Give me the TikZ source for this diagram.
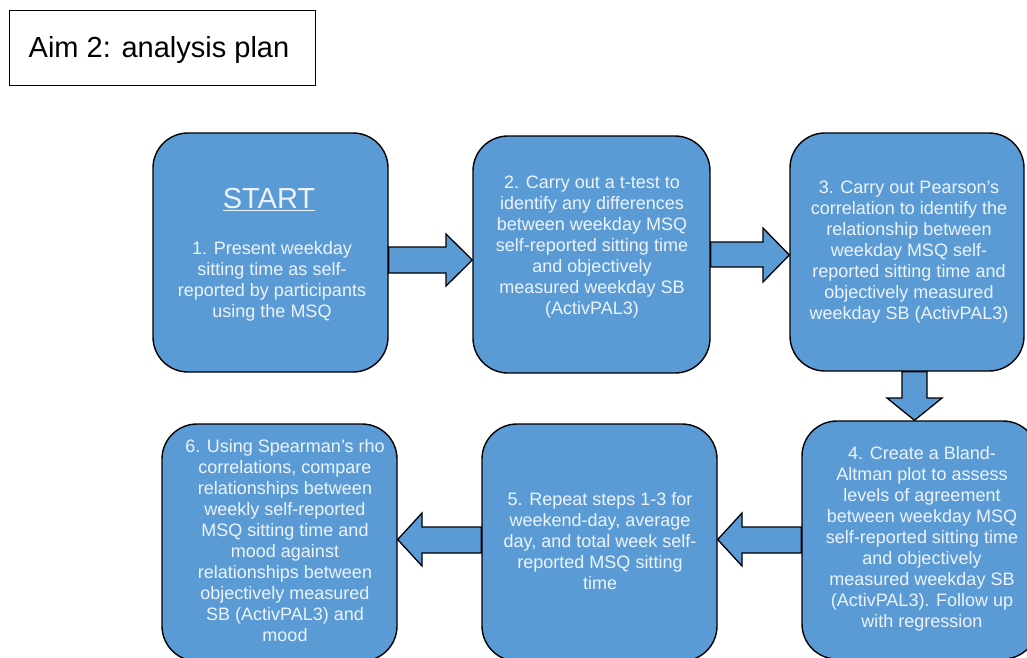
\documentclass[tikz,border=0pt]{standalone}
\usepackage{fontspec}
\setmainfont{Liberation Sans}
\usetikzlibrary{calc}
\definecolor{stepfill}{RGB}{91,155,213}
\definecolor{steptext}{RGB}{236,243,251}
\tikzset{
  stepbox/.style={draw=black, line width=1.4pt, fill=stepfill, rounded corners=35pt,
    inner sep=0pt, minimum width=#1},
  stepbox/.default=235pt,
  steptxt/.style={text=steptext, align=center, anchor=base, inner sep=0pt,
    font=\fontsize{18}{21}\selectfont},
  blockarrow/.style={draw=black, line width=1.3pt, fill=stepfill, line join=miter},
}
\begin{document}
\begin{tikzpicture}[x=1pt, y=-1pt]
\useasboundingbox (0,0) rectangle (1027,657);
\clip (0,0) rectangle (1027,657);

% heading
\node[draw=black, line width=0.9pt, minimum width=306pt, minimum height=75pt, inner sep=0pt]
  (title) at (162,47.5) {};
\node[anchor=base, inner sep=0pt, font=\fontsize{29}{34}\selectfont] (titletxt) at (159,57)
  {Aim 2: analysis plan};

% step boxes
\node[stepbox=235pt, minimum height=239pt] (b1) at (270.5,252.5) {};
\node[stepbox=237pt, minimum height=237pt] (b2) at (591.5,254.5) {};
\node[stepbox=234pt, minimum height=238pt] (b3) at (907,252) {};
\node[stepbox=236pt, minimum height=238pt] (b4) at (920,540) {};
\node[stepbox=235pt, minimum height=237pt] (b5) at (599.5,542.5) {};
\node[stepbox=235pt, minimum height=237pt] (b6) at (279.5,542.5) {};

% texts (anchored on the baseline of their last line)
\node[steptxt, font=\fontsize{29}{34}\selectfont] (start) at (269,208.5) {\underline{START}};
\node[steptxt] (t1) at (272,317.5) {1. Present weekday\\ sitting time as self-\\ reported by participants\\ using the MSQ};
\node[steptxt] (t2) at (592,314.5) {2. Carry out a t-test to\\ identify any differences\\ between weekday MSQ\\ self-reported sitting time\\ and objectively\\ measured weekday SB\\ (ActivPAL3)};
\node[steptxt] (t3) at (909,319.5) {3. Carry out Pearson’s\\ correlation to identify the\\ relationship between\\ weekday MSQ self-\\ reported sitting time and\\ objectively measured\\ weekday SB (ActivPAL3)};
\node[steptxt] (t4) at (922,627.5) {4. Create a Bland-\\ Altman plot to assess\\ levels of agreement\\ between weekday MSQ\\ self-reported sitting time\\ and objectively\\ measured weekday SB\\ (ActivPAL3). Follow up\\ with regression};
\node[steptxt] (t5) at (600,589.5) {5. Repeat steps 1-3 for\\ weekend-day, average\\ day, and total week self-\\ reported MSQ sitting\\ time};
\node[steptxt] (t6) at (285,641.5) {6. Using Spearman’s rho\\ correlations, compare\\ relationships between\\ weekly self-reported\\ MSQ sitting time and\\ mood against\\ relationships between\\ objectively measured\\ SB (ActivPAL3) and\\ mood};

% block arrows between steps
\draw[blockarrow] (b1.east |- 0,247) -- (446,247) -- (446,234) -- (b2.west |- 0,260)
  -- (446,286) -- (446,273) -- (b1.east |- 0,273) -- cycle;
\draw[blockarrow] (b2.east |- 0,242) -- (763,242) -- (763,228) -- (b3.west |- 0,255)
  -- (763,282) -- (763,267) -- (b2.east |- 0,267) -- cycle;
\draw[blockarrow] (b3.south -| 902,0) -- (902,398) -- (887,398) -- (b4.north -| 914.5,0)
  -- (942,398) -- (927,398) -- (b3.south -| 927,0) -- cycle;
\draw[blockarrow] (b4.west |- 0,527) -- (742,527) -- (742,513) -- (b5.east |- 0,539.5)
  -- (742,566) -- (742,553) -- (b4.west |- 0,553) -- cycle;
\draw[blockarrow] (b5.west |- 0,527) -- (422,527) -- (422,513) -- (b6.east |- 0,539.5)
  -- (422,566) -- (422,553) -- (b5.west |- 0,553) -- cycle;
\end{tikzpicture}
\end{document}
